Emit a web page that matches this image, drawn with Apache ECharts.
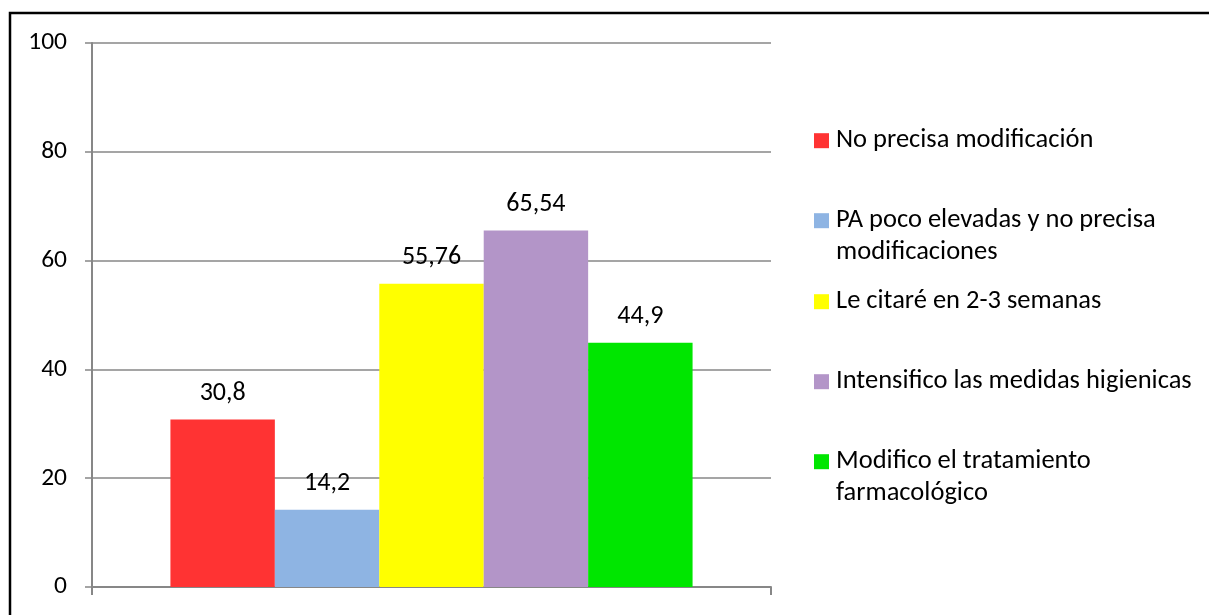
<!DOCTYPE html>
<html>
<head>
<meta charset="utf-8">
<script src="https://cdn.jsdelivr.net/npm/echarts@6/dist/echarts.min.js"></script>
<style>
  html, body { margin: 0; padding: 0; background: #ffffff; }
  #chart { width: 1209px; height: 615px; }
</style>
</head>
<body>
<div id="chart"></div>
<script>
// Answer groups and their percentages
const seriesNames = [
  'No precisa modificación',
  'PA poco elevadas y no precisa\nmodificaciones',
  'Le citaré en 2-3 semanas',
  'Intensifico las medidas higienicas',
  'Modifico el tratamiento\nfarmacológico'
];
const seriesValues = [30.8, 14.2, 55.76, 65.54, 44.9];
const seriesColors = ['#FF3333', '#8EB4E3', '#FFFF00', '#B395C8', '#00E600'];
const categories = [''];
const yTicks = { min: 0, max: 100, interval: 20 };

const FONT = 'Carlito, Calibri, Lato, sans-serif';
const AXIS_GREY = '#878787';

const chart = echarts.init(document.getElementById('chart'), null, { renderer: 'canvas' });

// Vertical centre of each legend marker
const legendCentres = [140.7, 220.7, 301.7, 381.7, 461.7];
const LINE_H = 32;

const legends = seriesNames.map((name, i) => {
  const lines = name.split('\n').length;
  // Two-line entries get a blank leading line so the marker sits beside the first line
  const boxLines = lines > 1 ? 3 : 1;
  return {
    data: [name],
    orient: 'vertical',
    left: 814,
    top: legendCentres[i] - (boxLines * LINE_H) / 2,
    padding: 0,
    itemWidth: 15,
    itemHeight: 15,
    itemGap: 10,
    icon: 'rect',
    selectedMode: false,
    formatter: n => (n.indexOf('\n') >= 0 ? '\n' + n : n),
    textStyle: {
      fontFamily: FONT, fontSize: 26.5, color: '#000',
      lineHeight: LINE_H, padding: [0, 0, 0, 2]
    }
  };
});

const series = seriesNames.map((name, i) => ({
  name: name,
  type: 'bar',
  data: [seriesValues[i]],
  barGap: '0%',
  barCategoryGap: '23.1%',
  itemStyle: { color: seriesColors[i] },
  label: {
    show: true,
    position: 'top',
    distance: 13,
    fontFamily: FONT,
    fontSize: 26,
    lineHeight: 26,
    color: '#000',
    formatter: p => String(p.value).replace('.', ',')
  },
  emphasis: { disabled: true }
}));

chart.setOption({
  animation: false,
  backgroundColor: '#ffffff',
  grid: { left: 92, right: 438, top: 43, bottom: 28, containLabel: false },
  xAxis: {
    type: 'category',
    data: categories,
    axisLine: { show: true, lineStyle: { color: AXIS_GREY, width: 2 } },
    axisTick: { show: true, alignWithLabel: false, length: 8, lineStyle: { color: AXIS_GREY, width: 2 } },
    axisLabel: { show: false },
    splitLine: { show: false }
  },
  yAxis: {
    type: 'value',
    min: yTicks.min,
    max: yTicks.max,
    interval: yTicks.interval,
    axisLine: { show: true, lineStyle: { color: AXIS_GREY, width: 2 } },
    axisTick: { show: true, length: 7, lineStyle: { color: AXIS_GREY, width: 1.5 } },
    axisLabel: { margin: 25, fontFamily: FONT, fontSize: 25.5, color: '#000' },
    splitLine: { show: true, lineStyle: { color: AXIS_GREY, width: 1.5 } }
  },
  legend: legends,
  series: series,
  graphic: [{
    type: 'rect',
    silent: true,
    z: 100,
    shape: { x: 10, y: 13, width: 1220, height: 640 },
    style: { fill: 'none', stroke: '#000', lineWidth: 2.5 }
  }]
});
</script>
</body>
</html>
